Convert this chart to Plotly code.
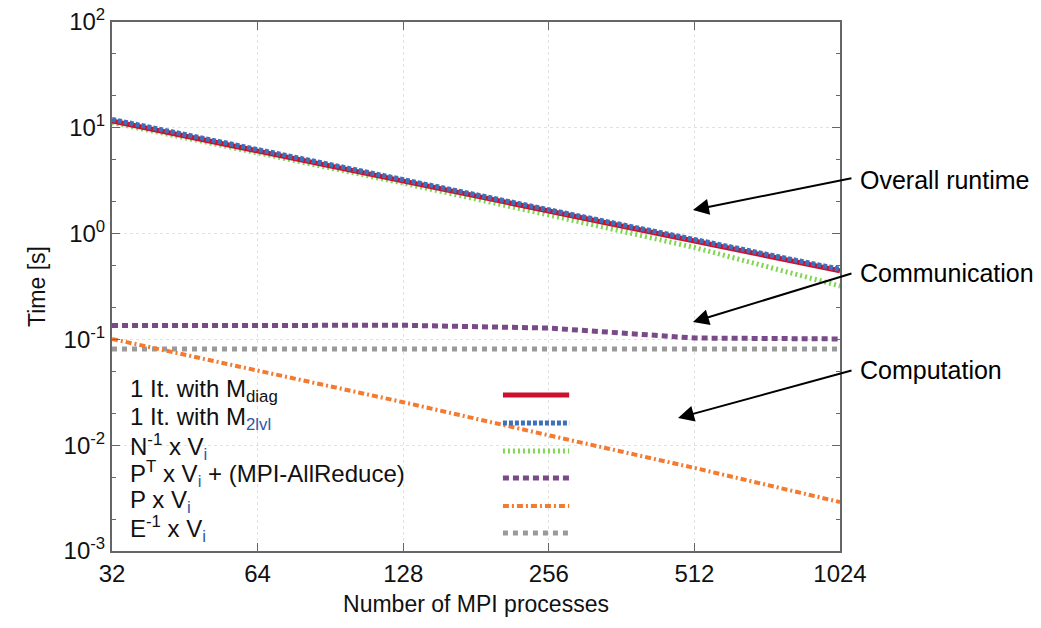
import plotly.graph_objects as go

# ---- data ----
procs = [32, 64, 128, 256, 512, 1024]
it_mdiag = [11.6, 6.0, 3.1, 1.62, 0.85, 0.446]
it_m2lvl = [12.0, 6.2, 3.2, 1.68, 0.88, 0.46]
ninv_v = [11.2, 5.8, 3.0, 1.5, 0.74, 0.32]
pt_v_allreduce = [0.135, 0.135, 0.136, 0.128, 0.103, 0.101]
p_v = [0.101, 0.051, 0.0255, 0.0124, 0.0061, 0.0029]
einv_v = [0.081, 0.081, 0.082, 0.083, 0.083, 0.081]

x_ticks = [32, 64, 128, 256, 512, 1024]
y_ticks = [1e-3, 1e-2, 1e-1, 1e0, 1e1, 1e2]
y_ticktext = ["10<sup>-3</sup>", "10<sup>-2</sup>", "10<sup>-1</sup>",
              "10<sup>0</sup>", "10<sup>1</sup>", "10<sup>2</sup>"]

SUB = "#2a5aa8"
legend_labels = [
    "1 It. with M<sub>diag</sub>",
    f"1 It. with M<sub><span style='color:{SUB}'>2lvl</span></sub>",
    f"N<sup>-1</sup> x V<sub><span style='color:{SUB}'>i</span></sub>",
    f"P<sup>T</sup> x V<sub><span style='color:{SUB}'>i</span></sub> + (MPI-AllReduce)",
    f"P x V<sub><span style='color:{SUB}'>i</span></sub>",
    f"E<sup>-1</sup> x V<sub><span style='color:{SUB}'>i</span></sub>",
]
series = [it_mdiag, it_m2lvl, ninv_v, pt_v_allreduce, p_v, einv_v]
colors = ["#cc1030", "#3d70b8", "#7fd650", "#7a4a88", "#f47a30", "#9a9a9a"]
dashes = ["solid", "4px,2px", "2px,3px", "6px,4px", "6px,3px,2px,3px", "5px,5px"]
widths = [5, 5, 5, 5, 4, 5]

annot_texts = ["Overall runtime", "Communication", "Computation"]

FONT = "Liberation Sans, Arial, Helvetica, sans-serif"

fig = go.Figure()
# draw order: green, purple, grey, orange, red, blue
order = [2, 3, 5, 4, 0, 1]
for i in order:
    fig.add_trace(go.Scatter(
        x=procs, y=series[i], mode="lines", name=legend_labels[i],
        line=dict(color=colors[i], width=widths[i], dash=dashes[i]),
        showlegend=False,
    ))

# custom legend: labels on the left, samples on the right
row_y = [0.295, 0.242, 0.189, 0.138, 0.085, 0.034]
annotations = []
shapes = []
for i, lab in enumerate(legend_labels):
    annotations.append(dict(
        xref="paper", yref="paper", x=0.022, y=row_y[i] + 0.008,
        xanchor="left", yanchor="middle", text=lab, showarrow=False,
        font=dict(family=FONT, size=24, color="#111"),
    ))
    shapes.append(dict(
        type="line", xref="paper", yref="paper",
        x0=0.537, x1=0.628, y0=row_y[i], y1=row_y[i],
        line=dict(color=colors[i], width=widths[i], dash=dashes[i]),
    ))

# arrows
arrows = [
    (0.798, 0.6446, 160, -32),
    (0.798, 0.4329, 160, -49),
    (0.7775, 0.2514, 175, -48),
]
for (hx, hy, ax, ay) in arrows:
    annotations.append(dict(
        xref="paper", yref="paper", x=hx, y=hy, ax=ax, ay=ay,
        text="", showarrow=True, arrowhead=2, arrowsize=1.6,
        arrowwidth=2, arrowcolor="black", standoff=0, startstandoff=0,
    ))
text_y = [0.7013, 0.5255, 0.3422]
for t, ty in zip(annot_texts, text_y):
    annotations.append(dict(
        xref="paper", yref="paper", x=1.0247, y=ty, xanchor="left",
        yanchor="middle", text=t, showarrow=False,
        font=dict(family=FONT, size=25, color="black"),
    ))

axis_common = dict(
    showline=True, linecolor="#666", linewidth=2, mirror="ticks",
    ticks="inside", ticklen=8, tickcolor="#666", tickwidth=1,
    showgrid=True, gridcolor="#e2e2e2", griddash="3px,3px", gridwidth=1,
    tickfont=dict(family=FONT, size=24, color="#111"),
    ticklabeloverflow="allow", automargin=False,
)

fig.update_layout(
    width=1033, height=620,
    margin=dict(l=104, r=201, t=14, b=77, autoexpand=False),
    paper_bgcolor="white", plot_bgcolor="white",
    font=dict(family=FONT, color="#111"),
    annotations=annotations, shapes=shapes,
    xaxis=dict(
        type="log", range=[1.50515, 3.0103],
        tickvals=x_ticks, ticktext=[str(v) for v in x_ticks],
        title=dict(text="Number of MPI processes", standoff=10,
                   font=dict(family=FONT, size=23, color="#111")),
        **axis_common,
    ),
    yaxis=dict(
        type="log", range=[-3, 2],
        tickvals=y_ticks, ticktext=y_ticktext,
        minor=dict(ticks="inside", ticklen=4, dtick="D2", tickcolor="#666",
                   showgrid=False),
        title=dict(text="Time [s]", standoff=12,
                   font=dict(family=FONT, size=23, color="#111")),
        **axis_common,
    ),
)

fig.write_html("out.html")
